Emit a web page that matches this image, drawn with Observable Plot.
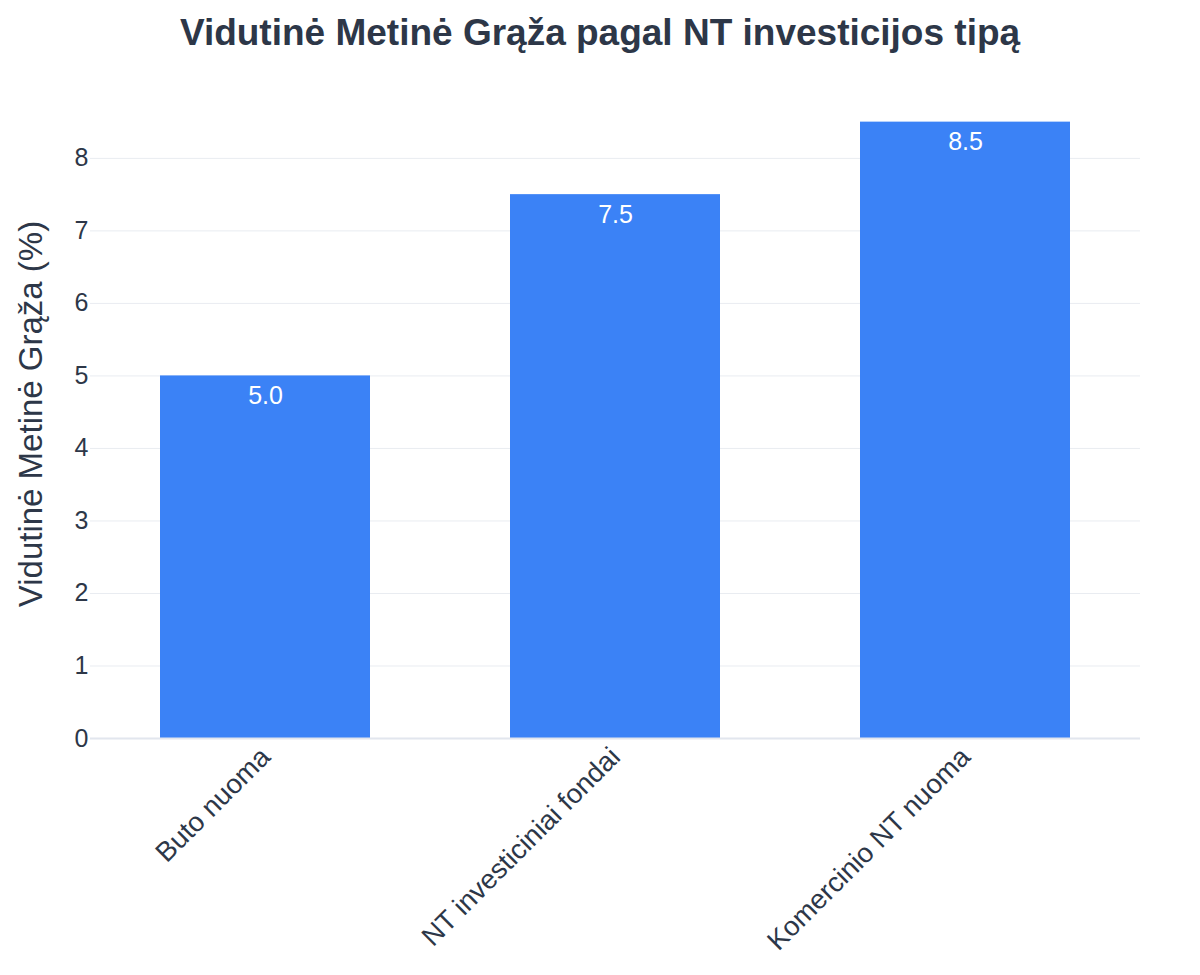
<!DOCTYPE html>
<html>
<head>
<meta charset="utf-8">
<script src="https://cdn.jsdelivr.net/npm/d3@7"></script>
<script src="https://cdn.jsdelivr.net/npm/@observablehq/plot@0.6"></script>
<style>
  html, body { margin: 0; padding: 0; background: #fff; }
  body { width: 1200px; height: 975px; font-family: "Liberation Sans", Arial, sans-serif; }
  #title { height: 80px; text-align: center; font-size: 37px; font-weight: bold; color: #2d3748; line-height: 66px; }
</style>
</head>
<body>
<div id="title">Vidutinė Metinė Grąža pagal NT investicijos tipą</div>
<div id="chart"></div>
<script>
const categories = ["Buto nuoma", "NT investiciniai fondai", "Komercinio NT nuoma"];
const returns = [5.0, 7.5, 8.5];
const yTicks = [0, 1, 2, 3, 4, 5, 6, 7, 8];
const yLabel = "Vidutinė Metinė Grąža (%)";

const data = categories.map((c, i) => ({category: c, value: returns[i]}));

const chart = Plot.plot({
  width: 1200,
  height: 895,
  marginTop: 9,
  marginBottom: 237,
  marginLeft: 90,
  marginRight: 60,
  style: {fontFamily: "'Liberation Sans', Arial, sans-serif", color: "#2d3748", background: "#fff"},
  x: {domain: categories, paddingInner: 0.4, paddingOuter: 0.2},
  y: {domain: [0, 8.95]},
  marks: [
    Plot.gridY(yTicks, {stroke: "#e9ecf1", strokeOpacity: 1, strokeWidth: 1}),
    Plot.barY(data, {x: "category", y: "value", fill: "#3b82f6"}),
    Plot.ruleY([0], {stroke: "#e2e6ee", strokeWidth: 2}),
    Plot.text(data, {x: "category", y: "value", text: d => d.value.toFixed(1), fill: "#ffffff", fontSize: 25, dy: 20, lineAnchor: "middle"}),
    Plot.axisY(yTicks, {tickSize: 0, tickPadding: 2, fontSize: 25, fill: "#2d3748", label: yLabel, labelAnchor: "center", labelArrow: "none", labelOffset: 72, tickFormat: d => String(d)}),
    Plot.axisX({tickSize: 0, tickPadding: 14, tickRotate: -45, fontSize: 27.5, fill: "#2d3748", label: null})
  ]
});
d3.select(chart).selectAll('g[aria-label="y-axis label"] text').attr("font-size", 33);
document.getElementById("chart").appendChild(chart);
</script>
</body>
</html>
